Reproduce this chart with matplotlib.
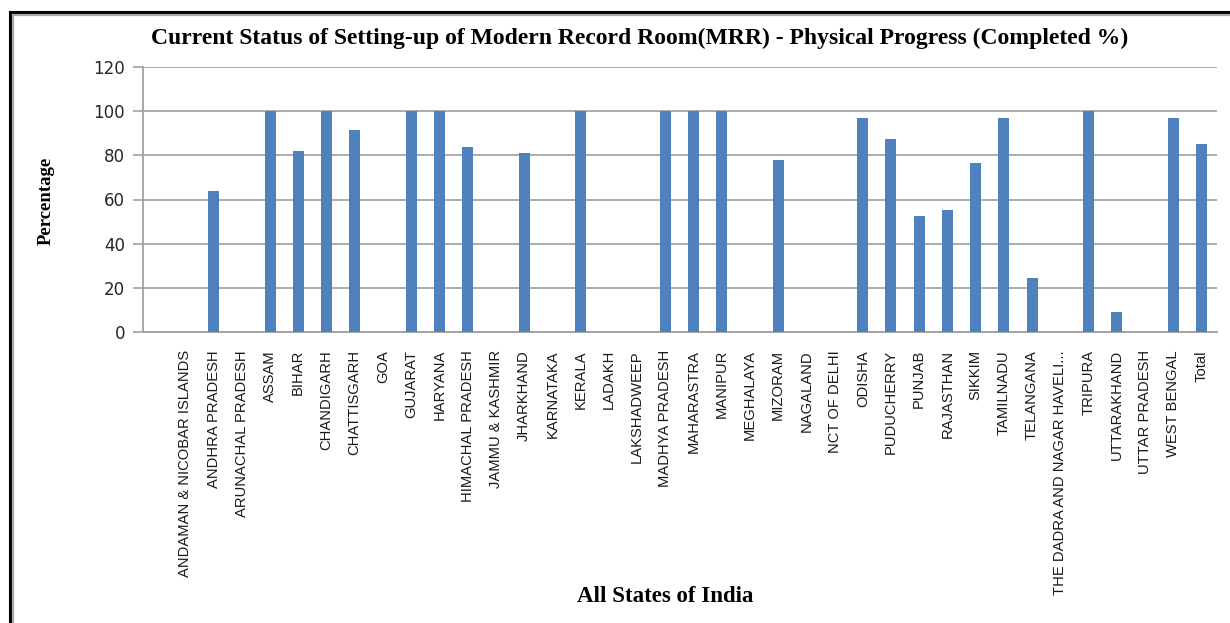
import matplotlib
matplotlib.use("Agg")
import matplotlib.pyplot as plt
from matplotlib import font_manager
from matplotlib.lines import Line2D

states = [
    "ANDAMAN & NICOBAR ISLANDS", "ANDHRA PRADESH", "ARUNACHAL PRADESH", "ASSAM",
    "BIHAR", "CHANDIGARH", "CHATTISGARH", "GOA", "GUJARAT", "HARYANA",
    "HIMACHAL PRADESH", "JAMMU & KASHMIR", "JHARKHAND", "KARNATAKA", "KERALA",
    "LADAKH", "LAKSHADWEEP", "MADHYA PRADESH", "MAHARASTRA", "MANIPUR",
    "MEGHALAYA", "MIZORAM", "NAGALAND", "NCT OF DELHI", "ODISHA", "PUDUCHERRY",
    "PUNJAB", "RAJASTHAN", "SIKKIM", "TAMILNADU", "TELANGANA",
    "THE DADRA AND NAGAR HAVELI...", "TRIPURA", "UTTARAKHAND", "UTTAR PRADESH",
    "WEST BENGAL", "Total",
]
completed_pct = [
    0, 64.0, 0, 100,
    82.1, 100, 91.5, 0, 100, 100,
    83.6, 0, 80.9, 0, 100,
    0, 0, 100, 100, 100,
    0, 78.0, 0, 0, 96.9, 87.3,
    52.5, 55.4, 76.5, 96.9, 24.3,
    0, 100, 9.1, 0,
    96.9, 85.3,
]
y_ticks = [0, 20, 40, 60, 80, 100, 120]

installed = {f.name for f in font_manager.fontManager.ttflist}
narrow = next((f for f in ["Liberation Sans Narrow", "DejaVu Sans Condensed",
                           "Liberation Sans"] if f in installed), "DejaVu Sans")
serif = "Liberation Serif"

W, H = 1230, 623
fig = plt.figure(figsize=(W / 100, H / 100), dpi=100)
fig.patch.set_facecolor("white")

ax = fig.add_axes([143 / W, 1 - 332 / H, (1217 - 143) / W, (332 - 67) / H])
x = list(range(len(states)))
ax.bar(x, completed_pct, width=0.39, color="#4F81BD", zorder=3)

ax.set_xlim(-1.5, len(states) - 0.45)
ax.set_ylim(0, 120)
ax.set_yticks(y_ticks)
ax.set_yticklabels([str(v) for v in y_ticks], fontsize=12, color="#262626",
                   family="DejaVu Sans")
ax.set_xticks(x)
ax.set_xticklabels(states, rotation=90, fontsize=10.6, family=narrow,
                   color="#1a1a1a", va="top", ha="center")
ax.tick_params(axis="x", length=0, pad=13)
ax.tick_params(axis="y", length=7, width=1.2, color="#A0A0A0", pad=6)

ax.grid(axis="y", color="#A6A6A6", linewidth=1.3, zorder=0)
for side in ("top", "right"):
    ax.spines[side].set_visible(False)
for side in ("left", "bottom"):
    ax.spines[side].set_color("#A0A0A0")
    ax.spines[side].set_linewidth(1.3)

fig.text(640 / W, 1 - 38 / H,
         "Current Status of Setting-up of Modern Record Room(MRR) - Physical Progress (Completed %)",
         ha="center", va="center", fontsize=17, fontweight="bold", family=serif)
ax.set_ylabel("Percentage", fontsize=13.5, fontweight="bold", family=serif)
ax.yaxis.set_label_coords(-88 / (1217 - 143), (332 - 201) / (332 - 67))
fig.text(665 / W, 1 - 596 / H, "All States of India", ha="center", va="center",
         fontsize=16.5, fontweight="bold", family=serif)

# double-line frame around the chart (top and left edges)
fig.add_artist(Line2D([9.5 / W, 1], [1 - 11.5 / H, 1 - 11.5 / H],
                      color="black", linewidth=2.2, transform=fig.transFigure))
fig.add_artist(Line2D([9.5 / W, 9.5 / W], [0, 1 - 11.5 / H],
                      color="black", linewidth=2.2, transform=fig.transFigure))
fig.add_artist(Line2D([13 / W, 1], [1 - 14.5 / H, 1 - 14.5 / H],
                      color="#A8A8A8", linewidth=1.6, transform=fig.transFigure))
fig.add_artist(Line2D([13 / W, 13 / W], [0, 1 - 14.5 / H],
                      color="#A8A8A8", linewidth=1.6, transform=fig.transFigure))

fig.savefig("out.png", dpi=100)
